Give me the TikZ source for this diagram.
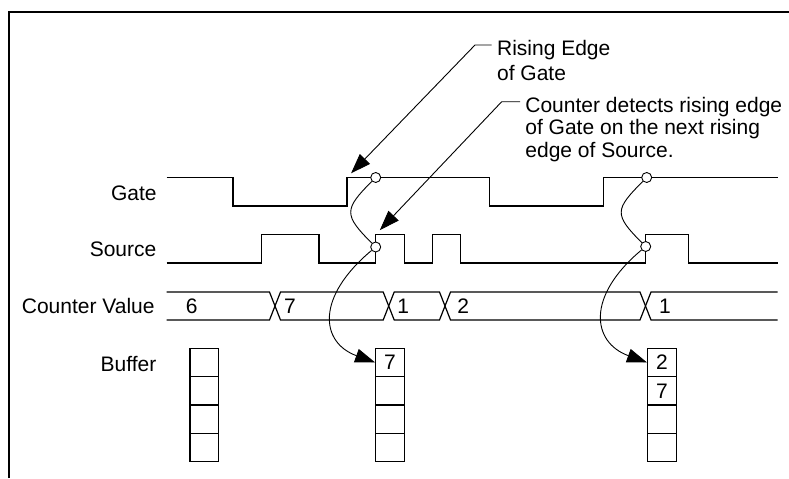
\documentclass[tikz,border=0pt]{standalone}
\usepackage{fontspec}
\setmainfont{Liberation Sans}
\usetikzlibrary{arrows.meta,calc}
\definecolor{timingink}{HTML}{000000}
\tikzset{
  sigline/.style={draw=timingink, line width=.6pt, line join=miter},
  framebar/.style={draw=timingink, line width=1pt},
  rowlabel/.style={font=\fontsize{10.5}{11.2}\selectfont, text=timingink,
    anchor=base east, inner sep=0pt},
  busvalue/.style={font=\fontsize{10.5}{11.2}\selectfont, text=timingink,
    anchor=base, inner sep=0pt},
  notetext/.style={font=\fontsize{10.5}{11.2}\selectfont, text=timingink,
    align=left, anchor=north west, inner sep=0pt},
  bufcell/.style={draw=timingink, line width=.6pt, minimum width=14.25pt,
    minimum height=14.2pt, inner sep=0pt, font=\fontsize{10.5}{11.2}\selectfont},
  edgemark/.style={draw=timingink, circle, fill=white, line width=.45pt,
    minimum size=5pt, inner sep=0pt},
  notearrow/.style={-{Triangle[length=10pt,width=7pt]}, draw=timingink, line width=.45pt},
  latchcurve/.style={draw=timingink, line width=.45pt},
  latcharrow/.style={-{Triangle[length=10pt,width=7pt]}, draw=timingink, line width=.45pt}
}
\begin{document}
\begin{tikzpicture}[x=.5pt,y=-.5pt]
  % pixel grid of the original figure, y runs downwards
  \useasboundingbox (0,0) rectangle (789,478);
  \draw[framebar] (9,478) -- (9,12) -- (789,12);

  \node[rowlabel] (gatelabel) at (157,200) {Gate};
  \node[rowlabel] (sourcelabel) at (156.7,256.7) {Source};
  \node[rowlabel] (countlabel) at (155,313.3) {Counter Value};
  \node[rowlabel] (bufferlabel) at (156.7,371) {Buffer};

  \draw[sigline] (166.7,177.5) -- (233,177.5) -- (233,206) -- (347,206)
    -- (347,177.5) coordinate (gaterise) -- (489.3,177.5) -- (489.3,206)
    -- (603.3,206) -- (603.3,177.5) -- (777.7,177.5);
  \draw[sigline] (166.7,263) -- (261.7,263) -- (261.7,234.5) -- (319,234.5)
    -- (319,263) -- (375.7,263) -- (375.7,234.5) coordinate (sourcerise)
    -- (404.3,234.5) -- (404.3,263) -- (432.3,263) -- (432.3,234.5)
    -- (460.3,234.5) -- (460.3,263) -- (645.7,263) -- (645.7,234.5)
    -- (688.3,234.5) -- (688.3,263) -- (777.7,263);

  \draw[sigline] (166.7,292) -- (269.5,292) -- (280.5,320) -- (383.2,320)
    -- (394.2,292) -- (439.5,292) -- (450.5,320) -- (640,320) -- (651,292)
    -- (777.7,292);
  \draw[sigline] (166.7,320) -- (269.5,320) -- (280.5,292) -- (383.2,292)
    -- (394.2,320) -- (439.5,320) -- (450.5,292) -- (640,292) -- (651,320)
    -- (777.7,320);
  \node[busvalue] (val6) at (191.7,313.3) {6};
  \node[busvalue] (val7) at (290,313.3) {7};
  \node[busvalue] (val1a) at (403.3,313.3) {1};
  \node[busvalue] (val2) at (463.3,313.3) {2};
  \node[busvalue] (val1b) at (665,313.3) {1};

  \foreach \bn/\bx in {a/204.2,b/390,c/661.9}
    \foreach \r in {1,...,4}
      \node[bufcell] (\bn\r) at (\bx,{348.3+28.35*(\r-0.5)}) {};
  \node[bufcell, draw=none] (b1val) at (b1) {7};
  \node[bufcell, draw=none] (c1val) at (c1) {2};
  \node[bufcell, draw=none] (c2val) at (c2) {7};

  \node[edgemark] (gmark1) at (375.7,177.5) {};
  \node[edgemark] (smark1) at (375.7,247) {};
  \node[edgemark] (gmark2) at (646.7,177.5) {};
  \node[edgemark] (smark2) at (645.7,246.5) {};
  \draw[latchcurve] (gmark1) .. controls +(-32,32) and +(-32,-32) .. (smark1);
  \draw[latcharrow] (smark1) .. controls +(-60,50) and +(-55,-20) .. (b1.west);
  \draw[latchcurve] (gmark2) .. controls +(-32,32) and +(-32,-32) .. (smark2);
  \draw[latcharrow] (smark2) .. controls +(-60,50) and +(-55,-20) .. (c1.west);

  \node[notetext] (risenote) at (496.7,40) {Rising Edge\\[1.2pt]of Gate};
  \node[notetext] (detectnote) at (525,96.7)
    {Counter detects rising edge\\of Gate on the next rising\\edge of Source.};
  \coordinate (risehook) at (491.7,45);
  \coordinate (risebend) at (475,45);
  \coordinate (detecthook) at (520,101.7);
  \coordinate (detectbend) at (501.7,101.7);
  \draw[notearrow, shorten >=2.9pt] (risehook) -- (risebend) -- (gaterise);
  \draw[notearrow, shorten >=3pt] (detecthook) -- (detectbend) -- (sourcerise);
\end{tikzpicture}
\end{document}
